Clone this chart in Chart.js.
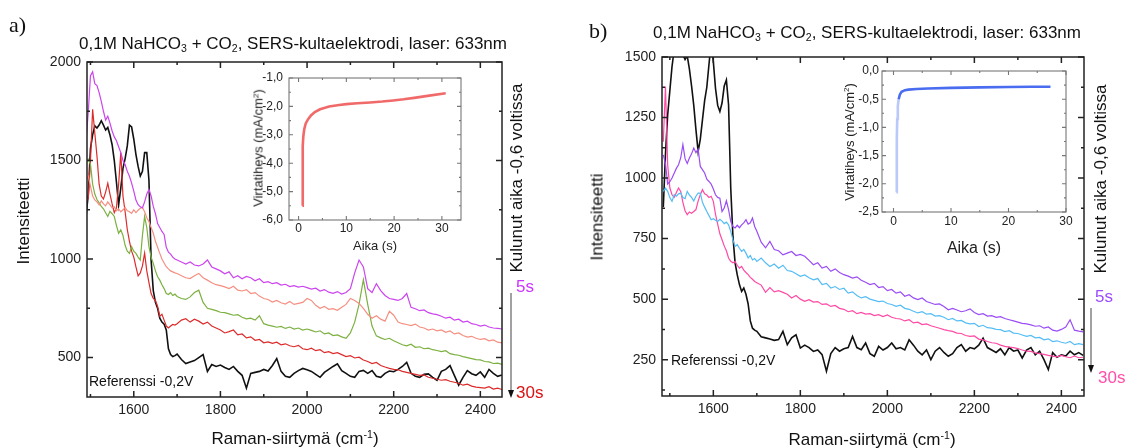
<!DOCTYPE html>
<html><head><meta charset="utf-8">
<script src="https://cdn.jsdelivr.net/npm/chart.js@4.4.1/dist/chart.umd.min.js"></script>
<style>
html,body{margin:0;padding:0;background:#fff}
body{width:1128px;height:448px;position:relative;overflow:hidden;font-family:"Liberation Sans",Arial,sans-serif;color:#111}
canvas{position:absolute;left:0;top:0}
.t{position:absolute;white-space:nowrap;line-height:1}
.c{transform:translate(-50%,-50%)}
.r{transform:translate(-50%,-50%) rotate(-90deg)}
.v{transform:translateY(-50%)}
sub{font-size:0.62em;vertical-align:-0.3em;line-height:0}
sup{font-size:0.62em;vertical-align:0.55em;line-height:0}
</style></head><body>
<canvas id="ma" width="1128" height="448"></canvas>
<canvas id="mb" width="1128" height="448"></canvas>
<canvas id="ia" width="1128" height="448"></canvas>
<canvas id="ib" width="1128" height="448"></canvas>

<div class="t v" style="left:9px;top:25px;font:22px 'Liberation Serif','DejaVu Serif',serif">a)</div>
<div class="t v" style="left:589px;top:31px;font:22px 'Liberation Serif','DejaVu Serif',serif">b)</div>
<div class="t c" style="left:293px;top:43px;font-size:17px">0,1M NaHCO<sub>3</sub> + CO<sub>2</sub>, SERS-kultaelektrodi, laser: 633nm</div>
<div class="t c" style="left:867px;top:32px;font-size:17px">0,1M NaHCO<sub>3</sub> + CO<sub>2</sub>, SERS-kultaelektrodi, laser: 633nm</div>
<div class="t r" style="left:23px;top:221px;font-size:17px">Intensiteetti</div>
<div class="t r" style="left:597px;top:217px;font-size:17px">Intensiteetti</div>
<div class="t c" style="left:295px;top:438px;font-size:17px">Raman-siirtymä (cm<sup>-1</sup>)</div>
<div class="t c" style="left:872px;top:439px;font-size:17px">Raman-siirtymä (cm<sup>-1</sup>)</div>
<div class="t r" style="left:516px;top:178px;font-size:17px">Kulunut aika -0,6 voltissa</div>
<div class="t r" style="left:1100px;top:179px;font-size:17px">Kulunut aika -0,6 voltissa</div>
<div class="t v" style="left:516px;top:286px;font-size:17px;color:#cc33ff">5s</div>
<div class="t v" style="left:516px;top:392px;font-size:17px;color:#dd1111">30s</div>
<div class="t v" style="left:1095px;top:296px;font-size:17px;color:#9b4dff">5s</div>
<div class="t v" style="left:1098px;top:377px;font-size:17px;color:#ff4fa8">30s</div>
<div class="t v" style="left:89px;top:381px;font-size:14px">Referenssi -0,2V</div>
<div class="t v" style="left:671px;top:360px;font-size:14px">Referenssi -0,2V</div>
<div class="t c" style="left:375px;top:245px;font-size:13px;color:#222">Aika (s)</div>
<div class="t c" style="left:974px;top:248px;font-size:16px;color:#222">Aika (s)</div>
<div class="t r" style="left:258px;top:148px;font-size:13px;color:#222">Virtatiheys (mA/cm<sup>2</sup>)</div>
<div class="t r" style="left:849px;top:142px;font-size:13px;color:#222">Virtatiheys (mA/cm<sup>2</sup>)</div>

<svg width="1128" height="448" style="position:absolute;left:0;top:0;pointer-events:none">
<line x1="511" y1="293" x2="511" y2="391" stroke="#444" stroke-width="1"/>
<polygon points="508,390 514,390 511,398" fill="#111"/>
<line x1="1091" y1="308" x2="1091" y2="366" stroke="#444" stroke-width="1"/>
<polygon points="1088,365 1094,365 1091,373" fill="#111"/>
</svg>

<script>
// ---------- DATA ----------
const WN = [
1485,1490,1495,1500,1505,1510,1515,1520,1525,1530,
1535,1540,1545,1550,1555,1560,1565,1570,1575,1580,
1585,1590,1595,1600,1605,1610,1615,1620,1625,1630,
1635,1640,1645,1650,1655,1660,1665,1670,1675,1680,
1685,1690,1695,1700,
1710,1720,1730,1740,1750,1760,1770,1780,1790,1800,
1810,1820,1830,1840,1850,1860,1870,1880,1890,1900,
1910,1920,1930,1940,1950,1960,1970,1980,1990,2000,
2010,2020,2030,2040,2050,2060,2070,2080,2090,2100,
2110,2120,2130,2140,2150,2160,2170,2180,2190,2200,
2210,2220,2230,2240,2250,2260,2270,2280,2290,2300,
2310,2320,2330,2340,2350,2360,2370,2380,2390,2400,
2410,2420,2430,2440,2450];

// Panel a
const A_5S = [
1560,1600,1750,1930,1950,1890,1880,1845,1800,1750,
1705,1725,1690,1650,1620,1600,1570,1540,1500,1480,
1445,1420,1385,1345,1300,1276,1265,1260,1290,1330,
1353,1320,1267,1230,1180,1160,1140,1125,1060,1035,
1025,1010,1000,995,
985,975,985,970,965,975,995,960,950,940,
925,935,905,915,900,912,905,890,900,880,
885,875,880,868,872,860,865,858,862,855,
848,852,838,845,832,826,835,822,830,850,
930,995,960,850,830,875,840,815,800,795,
790,800,825,755,748,738,742,728,722,718,
710,700,705,690,695,680,685,672,668,660,
665,655,650,648,645];
const A_SALMON = [
1380,1400,1420,1370,1320,1300,1290,1275,1295,1280,
1270,1290,1275,1260,1265,1245,1255,1240,1250,1262,
1245,1240,1232,1250,1236,1248,1258,1262,1240,1210,
1190,1160,1131,1090,1060,1029,1000,980,961,950,
940,935,930,927,
915,905,901,915,927,905,893,880,870,865,
859,850,862,842,838,845,825,830,812,800,
795,782,790,778,772,785,770,775,780,800,
790,765,750,760,745,748,740,755,770,800,
790,775,750,720,700,712,695,685,735,715,
680,672,668,662,670,655,650,640,645,636,
640,628,635,620,625,612,604,608,598,592,
596,585,590,578,575];
const A_GREEN = [
1450,1490,1506,1480,1380,1330,1302,1285,1267,1255,
1235,1216,1242,1230,1216,1170,1131,1148,1120,1070,
1040,1029,1063,1040,1029,1010,995,1120,1216,1160,
1063,1010,978,940,910,893,870,850,825,820,
830,815,822,810,
800,795,808,830,842,780,750,745,738,730,
728,722,715,718,705,697,700,690,712,672,
665,660,654,658,648,655,645,650,640,645,
638,630,636,620,625,612,615,605,598,625,
680,770,895,770,660,610,600,592,598,585,
575,565,560,568,552,555,545,548,540,536,
530,535,520,515,512,505,500,495,490,488,
480,478,470,472,465];
const A_30S = [
1290,1290,1310,1500,1760,1640,1523,1380,1320,1305,
1340,1385,1330,1280,1235,1260,1380,1540,1320,1240,
1150,1090,1040,1010,960,915,930,965,1030,940,
880,825,800,790,760,710,720,690,660,650,
660,668,665,672,
690,697,680,695,685,670,680,660,650,640,
625,632,640,615,620,600,605,588,592,575,
580,572,578,565,570,560,555,562,545,540,
548,535,540,525,530,520,525,515,505,510,
498,502,488,480,470,475,460,452,445,440,
438,430,425,420,415,410,412,400,395,390,
385,388,380,375,370,360,365,355,350,348,
345,352,340,345,338];
const A_REF = [
1150,1220,1330,1560,1630,1676,1665,1680,1702,1680,
1655,1668,1630,1580,1500,1390,1275,1360,1460,1510,
1574,1680,1670,1608,1530,1470,1421,1445,1540,1540,
1400,995,840,780,750,700,680,670,640,545,
515,505,510,518,
490,470,478,485,500,515,430,465,455,462,
450,440,455,430,410,345,420,425,430,440,
432,460,495,430,405,400,420,434,445,438,
430,415,400,425,440,455,468,434,420,405,
400,430,435,420,434,405,400,420,432,428,
440,455,476,420,405,400,415,417,400,385,
430,440,459,410,360,400,434,418,410,427,
400,440,420,405,412];

// Panel b
const B_5S = [
1096,1060,975,985,1000,1020,1040,1055,1083,1138,
1080,1060,1083,1100,1124,1105,1120,1048,1035,1021,
995,986,975,955,931,920,917,862,876,906,
870,821,800,794,805,795,807,815,828,810,
815,835,800,780,
735,712,738,705,700,683,690,697,680,685,
677,660,642,650,628,635,615,625,610,601,
595,587,592,578,570,560,565,548,552,535,
540,525,530,512,518,505,498,505,490,484,
478,480,470,456,462,455,448,452,460,445,
436,440,430,432,425,428,420,415,410,405,
400,398,394,388,390,380,385,372,368,375,
385,415,372,368,365];
const B_BLUE = [
945,959,945,920,904,931,925,935,938,920,
915,945,930,920,905,925,938,938,900,880,
862,845,828,832,826,821,830,822,812,818,
807,780,745,718,725,710,697,705,690,670,
680,662,668,656,
670,650,635,645,628,640,618,615,605,594,
600,588,580,585,560,565,546,552,540,545,
525,530,515,505,510,500,495,490,492,482,
478,470,475,462,458,450,443,448,438,440,
430,432,425,415,420,410,412,402,398,400,
387,392,382,380,375,374,366,370,360,358,
352,346,350,340,342,332,336,325,328,322,
318,325,312,316,312];
const B_30S = [
1150,1378,1055,960,931,920,940,959,945,900,
865,849,860,855,862,870,905,931,952,935,
930,920,925,904,850,810,770,745,720,700,
670,656,650,655,640,628,635,620,610,601,
590,582,573,568,
558,528,548,530,535,528,520,505,515,500,
491,498,488,490,478,480,470,474,462,458,
448,452,440,445,438,440,432,436,428,435,
425,420,418,410,415,402,405,395,398,390,
385,380,374,370,367,360,358,350,346,348,
335,332,325,320,318,310,305,302,300,296,
290,285,284,278,275,272,268,265,262,268,
262,258,265,258,260];
const B_REF = [
880,1100,1260,1360,1460,1530,1560,1580,1560,1510,
1490,1505,1450,1380,1300,1200,1110,1160,1240,1320,
1375,1470,1560,1481,1370,1300,1275,1310,1380,1405,
1303,959,760,650,600,560,532,546,520,480,
410,380,372,367,
345,340,335,330,333,367,312,340,353,298,
310,300,284,290,271,202,275,300,285,295,
300,346,300,291,319,275,264,305,290,300,
319,295,300,290,332,310,285,270,290,250,
285,300,280,264,275,300,312,285,300,295,
310,339,300,290,280,295,270,300,285,290,
257,290,300,270,285,250,209,279,260,270,
265,285,270,279,268];

// Insets
const INSET_A_T = [0.8,0.83,0.87,0.92,1.0,1.2,1.5,2.0,2.6,3.4,4.5,6.4,8.5,10,12.3,15,17.5,19.8,22,24.2,27,30.8];
const INSET_A_J = [-5.5,-4.8,-4.0,-3.4,-3.05,-2.8,-2.6,-2.45,-2.32,-2.2,-2.1,-2.0,-1.95,-1.92,-1.89,-1.86,-1.83,-1.79,-1.75,-1.7,-1.63,-1.54];
const INSET_B_T = [0.5,0.55,0.6,0.65,0.75,0.9,1.1,1.4,2.0,2.6,4,6,10,15,20,24,27.3];
const INSET_B_J = [-2.15,-1.7,-1.2,-0.85,-0.62,-0.5,-0.42,-0.37,-0.34,-0.33,-0.32,-0.31,-0.3,-0.29,-0.285,-0.28,-0.28];

// Tick values
const X_MAJOR = [1600,1800,2000,2200,2400];
const X_MINOR = [1500,1700,1900,2100,2300];
const Y_MAJOR_A = [500,1000,1500,2000];
const Y_MINOR_A = [750,1250,1750];
const Y_MAJOR_B = [250,500,750,1000,1250,1500];
const Y_MINOR_B = [125,375,625,875,1125,1375];
const T_MAJOR = [0,10,20,30];
const T_MINOR = [5,15,25];
const J_MAJOR_A = [-6,-5,-4,-3,-2,-1];
const J_MINOR_A = [-5.5,-4.5,-3.5,-2.5,-1.5];
const J_MAJOR_B = [-2.5,-2,-1.5,-1,-0.5,0];
const J_MINOR_B = [-2.25,-1.75,-1.25,-0.75,-0.25];

// ---------- HELPERS ----------
const FAM = '"Liberation Sans", Arial, sans-serif';
function pts(xs, ys){ return xs.map((x,i)=>({x:x, y:ys[i]})); }
function ds(xs, ys, color, w){ return {data:pts(xs,ys), borderColor:color, borderWidth:w, pointRadius:0, tension:0, fill:false}; }
function frame(cfg){
  return { id:'frame', afterDatasetsDraw(chart){
    const ctx = chart.ctx, a = chart.chartArea, sx = chart.scales.x, sy = chart.scales.y;
    ctx.save();
    ctx.strokeStyle = cfg.color; ctx.lineWidth = cfg.width;
    ctx.beginPath();
    const tk = (vals, len, ax) => vals.forEach(v => {
      if (ax === 'x') { const p = sx.getPixelForValue(v);
        ctx.moveTo(p, a.bottom); ctx.lineTo(p, a.bottom - len);
        ctx.moveTo(p, a.top); ctx.lineTo(p, a.top + len); }
      else { const p = sy.getPixelForValue(v);
        ctx.moveTo(a.left, p); ctx.lineTo(a.left + len, p);
        ctx.moveTo(a.right, p); ctx.lineTo(a.right - len, p); }
    });
    tk(cfg.xMajor, cfg.major, 'x'); tk(cfg.xMinor, cfg.minor, 'x');
    tk(cfg.yMajor, cfg.major, 'y'); tk(cfg.yMinor, cfg.minor, 'y');
    ctx.stroke();
    ctx.strokeRect(a.left, a.top, a.right - a.left, a.bottom - a.top);
    ctx.restore();
  }};
}
function axis(min, max, ticks, fmt, size, pad, key, val){
  return { type:'linear', min:min, max:max,
    grid:{display:false, drawTicks:false}, border:{display:false},
    ticks:{font:{family:FAM, size:size}, color:'#222', padding:pad, autoSkip:false, maxRotation:0, includeBounds:false,
      callback:(v)=>fmt(v)},
    afterBuildTicks:(s)=>{ s.ticks = ticks.map(v=>({value:v})); },
    afterFit:(s)=>{ s[key] = val; } };
}
const intFmt = v => String(v);
const decFmt = v => v.toFixed(1).replace('.', ',');
function mk(id, datasets, pad, xs, ys, fr){
  return new Chart(document.getElementById(id), {
    type:'line', data:{datasets:datasets},
    options:{ responsive:false, animation:false, events:[],
      layout:{padding:pad},
      plugins:{legend:{display:false}, tooltip:{enabled:false}, title:{display:false}},
      scales:{x:xs, y:ys} },
    plugins:[frame(fr)] });
}

// ---------- CHARTS ----------
mk('ma', [
  ds(WN, A_5S, '#cc44ee', 1.2),
  ds(WN, A_SALMON, '#f58f82', 1.2),
  ds(WN, A_GREEN, '#7cb040', 1.2),
  ds(WN, A_30S, '#dd2b2b', 1.2),
  ds(WN, A_REF, '#111111', 1.6)
], {left:27, top:62, right:626, bottom:21},
  axis(1492, 2450, X_MAJOR, intFmt, 14, 5, 'height', 30),
  axis(300, 2000, Y_MAJOR_A, intFmt, 14, 6, 'width', 60),
  {color:'#222', width:1.5, major:6, minor:3, xMajor:X_MAJOR, xMinor:X_MINOR, yMajor:Y_MAJOR_A, yMinor:Y_MINOR_A});

mk('mb', [
  ds(WN, B_5S, '#9a4cf5', 1.2),
  ds(WN, B_BLUE, '#55bdf5', 1.2),
  ds(WN, B_30S, '#ff4aa5', 1.2),
  ds(WN, B_REF, '#111111', 1.6)
], {left:602, top:57, right:44, bottom:22},
  axis(1482, 2452, X_MAJOR, intFmt, 14, 5, 'height', 30),
  axis(100, 1500, Y_MAJOR_B, intFmt, 14, 6, 'width', 60),
  {color:'#222', width:1.5, major:6, minor:3, xMajor:X_MAJOR, xMinor:X_MINOR, yMajor:Y_MAJOR_B, yMinor:Y_MINOR_B});

mk('ia', [
  ds(INSET_A_T, INSET_A_J, 'rgba(240,90,90,0.9)', 2.6)
], {left:249, top:78, right:667, bottom:208},
  axis(-2, 34, T_MAJOR, intFmt, 12, 1, 'height', 20),
  axis(-6, -1, J_MAJOR_A, decFmt, 12, 6, 'width', 40),
  {color:'#777', width:1.1, major:4, minor:2, xMajor:T_MAJOR, xMinor:T_MINOR, yMajor:J_MAJOR_A, yMinor:J_MINOR_A});

const ibSet = ds(INSET_B_T, INSET_B_J, '#4a6cf0', 2.6);
ibSet.segment = {borderColor: c => (c.p0.parsed.y < -0.55 ? 'rgba(120,145,245,0.5)' : '#4a6cf0')};
mk('ib', [ibSet], {left:842, top:71, right:62, bottom:216},
  axis(-2, 30, T_MAJOR, intFmt, 12, 2, 'height', 20),
  axis(-2.5, 0, J_MAJOR_B, decFmt, 12, 3, 'width', 40),
  {color:'#777', width:1.1, major:4, minor:2, xMajor:T_MAJOR, xMinor:T_MINOR, yMajor:J_MAJOR_B, yMinor:J_MINOR_B});
</script>
</body></html>
